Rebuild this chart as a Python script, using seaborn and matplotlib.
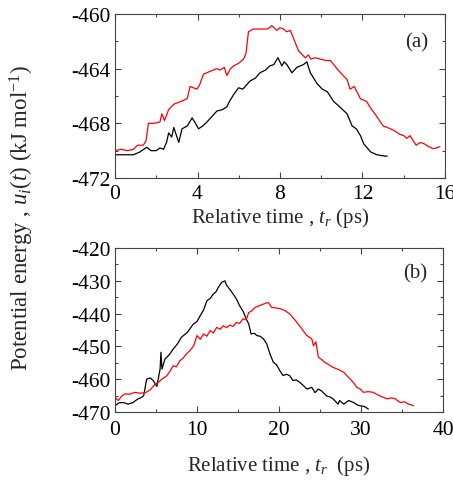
import matplotlib
matplotlib.use("Agg")
import matplotlib.pyplot as plt
import numpy as np
import pandas as pd
import seaborn as sns
from matplotlib.ticker import MultipleLocator

# panel (a): relative time (ps) vs potential energy (kJ/mol)
a_red_t = [0, 0.3, 0.6, 0.89, 1.1, 1.37, 1.5, 1.62, 1.9, 2.18, 2.27, 2.4, 2.6, 2.85, 3.2, 3.5,
           3.64, 3.8, 3.97, 4.1, 4.29, 4.6, 4.94, 5.1, 5.3, 5.42, 5.6, 5.75, 6.0, 6.23, 6.35,
           6.47, 6.7, 7.0, 7.36, 7.5, 7.6, 7.85, 8.0, 8.17, 8.33, 8.5, 8.66, 8.9, 9.22, 9.38,
           9.5, 9.7, 9.96, 10.2, 10.44, 10.76, 11.0, 11.25, 11.4, 11.6, 11.9, 12.2, 12.4, 12.6,
           13.0, 13.2, 13.5, 13.8, 14.0, 14.15, 14.3, 14.6, 14.8, 15.0, 15.2, 15.42, 15.6, 15.75]
a_red_u = [-470.0, -469.9, -470.0, -469.9, -469.6, -469.6, -469.3, -468.0, -468.0, -467.9,
           -467.3, -467.8, -467.0, -466.6, -466.4, -466.2, -465.3, -465.4, -465.5, -465.2,
           -464.4, -464.2, -464.0, -464.1, -463.9, -464.5, -464.0, -463.8, -463.6, -463.3,
           -462.9, -461.3, -461.1, -461.1, -461.1, -461.0, -460.85, -461.2, -461.0, -461.1,
           -461.3, -461.2, -461.8, -462.7, -463.2, -463.0, -463.3, -463.2, -463.3, -463.4,
           -463.4, -464.0, -464.4, -464.8, -465.5, -465.3, -466.2, -466.4, -466.9, -467.3,
           -468.2, -468.3, -468.5, -468.8, -468.9, -469.1, -468.9, -469.6, -469.4, -469.5,
           -469.7, -469.85, -469.8, -469.7]

a_blk_t = [0, 0.4, 0.89, 1.2, 1.54, 1.75, 2.0, 2.18, 2.35, 2.5, 2.6, 2.75, 2.85, 3.09, 3.25,
           3.5, 3.74, 3.9, 4.05, 4.25, 4.46, 4.7, 4.94, 5.2, 5.42, 5.55, 5.75, 5.99, 6.2, 6.55,
           6.8, 7.03, 7.3, 7.5, 7.7, 7.9, 8.09, 8.2, 8.33, 8.58, 8.82, 9.14, 9.3, 9.47, 9.8,
           10.05, 10.3, 10.6, 10.9, 11.25, 11.5, 11.7, 11.9, 12.06, 12.4, 12.7, 13.1, 13.2]
a_blk_u = [-470.3, -470.3, -470.3, -470.1, -469.75, -470.0, -470.0, -469.8, -469.9, -469.4,
           -468.7, -469.0, -468.3, -469.4, -468.4, -468.2, -467.6, -468.0, -468.4, -468.2,
           -467.9, -467.5, -467.1, -467.0, -466.8, -466.4, -465.9, -465.4, -465.5, -464.9,
           -464.7, -464.3, -464.1, -463.8, -463.7, -463.2, -463.8, -463.5, -463.7, -464.3,
           -463.9, -463.7, -463.5, -464.3, -465.1, -465.5, -465.7, -466.4, -466.8, -467.3,
           -468.2, -468.4, -468.9, -469.5, -470.1, -470.3, -470.4, -470.4]

# panel (b)
b_blk_t = [0, 0.5, 1.0, 1.6, 2.2, 2.8, 3.2, 3.5, 3.86, 4.3, 4.68, 5.1, 5.5, 5.6, 5.73, 6.1,
           6.6, 7.1, 7.6, 8.1, 8.8, 9.55, 10.0, 10.4, 10.8, 11.2, 11.6, 12.0, 12.3, 12.6, 13.0,
           13.4, 13.6, 14.0, 14.4, 14.8, 15.2, 15.6, 16.0, 16.3, 16.6, 17.0, 17.3, 17.7, 18.1,
           18.5, 18.9, 19.3, 19.7, 20.1, 20.5, 20.9, 21.3, 21.7, 22.1, 22.5, 23.0, 23.4, 24.0,
           24.4, 24.8, 25.2, 25.8, 26.2, 26.6, 27.2, 27.4, 27.9, 28.5, 29.1, 29.5, 29.9, 30.4,
           30.9]
b_blk_u = [-468.1, -467.2, -467.1, -467.6, -467.1, -466.0, -465.6, -465.0, -460.0, -459.6,
           -460.5, -462.2, -456.9, -451.8, -456.9, -453.8, -452.6, -450.8, -449.3, -447.2,
           -445.8, -443.2, -442.4, -440.6, -438.9, -436.1, -435.4, -434.0, -433.4, -432.0,
           -430.5, -430.0, -431.3, -432.6, -434.0, -435.5, -437.6, -439.2, -441.6, -443.1,
           -446.2, -446.0, -446.7, -446.9, -447.7, -449.2, -452.3, -454.8, -455.6, -457.4,
           -458.9, -458.5, -458.9, -460.4, -460.2, -460.9, -462.0, -463.0, -462.5, -464.1,
           -463.0, -463.6, -465.1, -465.4, -466.0, -467.6, -466.5, -467.6, -466.5, -467.1,
           -467.8, -468.1, -468.3, -469.1]

b_red_t = [0, 0.4, 0.8, 1.2, 1.8, 2.4, 3.1, 3.8, 4.3, 4.9, 5.3, 5.7, 6.3, 6.7, 7.1, 7.5, 7.9,
           8.3, 8.7, 9.1, 9.6, 10.0, 10.4, 10.8, 11.2, 11.6, 12.0, 12.4, 12.8, 13.2, 13.6, 14.0,
           14.4, 14.8, 15.2, 15.6, 16.0, 16.3, 16.7, 17.1, 17.6, 18.1, 18.7, 19.1, 19.7, 20.3,
           20.8, 21.3, 21.9, 22.5, 23.0, 23.4, 24.0, 24.2, 24.5, 24.8, 25.2, 25.6, 26.1, 26.6,
           27.2, 27.9, 28.3, 28.7, 29.1, 29.5, 29.9, 30.3, 30.9, 31.5, 31.9, 32.3, 32.8, 33.2,
           33.7, 34.2, 34.5, 34.8, 35.3, 35.8, 36.1, 36.4]
b_red_u = [-465.5, -466.5, -465.2, -464.5, -464.6, -464.0, -464.3, -464.0, -463.2, -461.5,
           -461.0, -460.0, -459.0, -457.6, -455.9, -456.2, -454.4, -453.6, -452.3, -451.4,
           -449.8, -446.7, -447.8, -446.2, -446.9, -445.2, -445.9, -444.2, -444.8, -443.7,
           -444.3, -443.5, -443.9, -442.7, -443.0, -441.6, -441.9, -439.7, -439.1, -438.1,
           -437.6, -437.1, -436.6, -438.1, -438.3, -438.6, -439.2, -440.1, -441.8, -443.7,
           -445.4, -446.7, -447.7, -449.8, -448.6, -453.3, -454.0, -454.9, -455.6, -456.4,
           -457.0, -457.9, -459.0, -460.0, -461.1, -462.5, -463.0, -464.0, -463.8, -464.0,
           -464.6, -465.1, -465.6, -466.0, -465.7, -466.0, -466.6, -467.1, -466.9, -467.6,
           -467.8, -468.1]

sns.set_theme(style="ticks")
plt.rcParams["font.family"] = ["Liberation Serif", "DejaVu Serif"]
plt.rcParams["mathtext.fontset"] = "custom"
plt.rcParams["mathtext.rm"] = "Liberation Serif"
plt.rcParams["mathtext.it"] = "Liberation Serif:italic"
plt.rcParams["axes.unicode_minus"] = False
plt.rcParams["axes.linewidth"] = 0.8

FS = 15

fig = plt.figure(figsize=(4.53, 4.81), dpi=100)
W, H = 453, 481
ax1 = fig.add_axes([115 / W, 1 - 179 / H, 330 / W, 164 / H])
ax2 = fig.add_axes([115 / W, 1 - 413 / H, 328 / W, 164 / H])

df_a = pd.concat([
    pd.DataFrame({"t": a_blk_t, "u": a_blk_u, "run": "black"}),
    pd.DataFrame({"t": a_red_t, "u": a_red_u, "run": "red"}),
])
df_b = pd.concat([
    pd.DataFrame({"t": b_blk_t, "u": b_blk_u, "run": "black"}),
    pd.DataFrame({"t": b_red_t, "u": b_red_u, "run": "red"}),
])
pal = {"black": "#000000", "red": "#ff0000"}

sns.lineplot(data=df_a, x="t", y="u", hue="run", palette=pal, estimator=None,
             linewidth=0.9, legend=False, ax=ax1)
sns.lineplot(data=df_b, x="t", y="u", hue="run", palette=pal, estimator=None,
             linewidth=0.9, legend=False, ax=ax2)

ax1.set_xlim(0, 16)
ax1.set_ylim(-472, -460)
ax1.xaxis.set_major_locator(MultipleLocator(4))
ax1.xaxis.set_minor_locator(MultipleLocator(2))
ax1.yaxis.set_major_locator(MultipleLocator(4))
ax1.yaxis.set_minor_locator(MultipleLocator(2))

ax2.set_xlim(0, 40)
ax2.set_ylim(-470, -420)
ax2.xaxis.set_major_locator(MultipleLocator(10))
ax2.xaxis.set_minor_locator(MultipleLocator(5))
ax2.yaxis.set_major_locator(MultipleLocator(10))
ax2.yaxis.set_minor_locator(MultipleLocator(5))

for ax in (ax1, ax2):
    ax.tick_params(which="both", direction="in", top=True, right=True,
                   labelsize=15.5, width=0.8, colors="#444444", labelcolor="black")
    ax.tick_params(which="major", length=4, pad=3)
    ax.tick_params(which="minor", length=2.5)
    for s in ax.spines.values():
        s.set_color("#444444")
    ax.set_ylabel("")

ax1.tick_params(axis="x", which="major", pad=4)
ax2.tick_params(axis="x", which="major", pad=6)
ax1.set_xlabel("Relative time , $t_r$ (ps)", fontsize=FS, labelpad=2)
ax2.set_xlabel("Relative time , $t_r$  (ps)", fontsize=FS, labelpad=10)
ax1.text(0.915, 0.83, "(a)", transform=ax1.transAxes, ha="center", va="center", fontsize=FS)
ax2.text(0.915, 0.85, "(b)", transform=ax2.transAxes, ha="center", va="center", fontsize=FS)

fig.text(22 / W, 1 - 218 / H, "Potential energy , $u_i(t)$ (kJ mol$^{-1}$)",
         rotation=90, ha="center", va="center", fontsize=16.5)

fig.savefig("out.png", dpi=100)
